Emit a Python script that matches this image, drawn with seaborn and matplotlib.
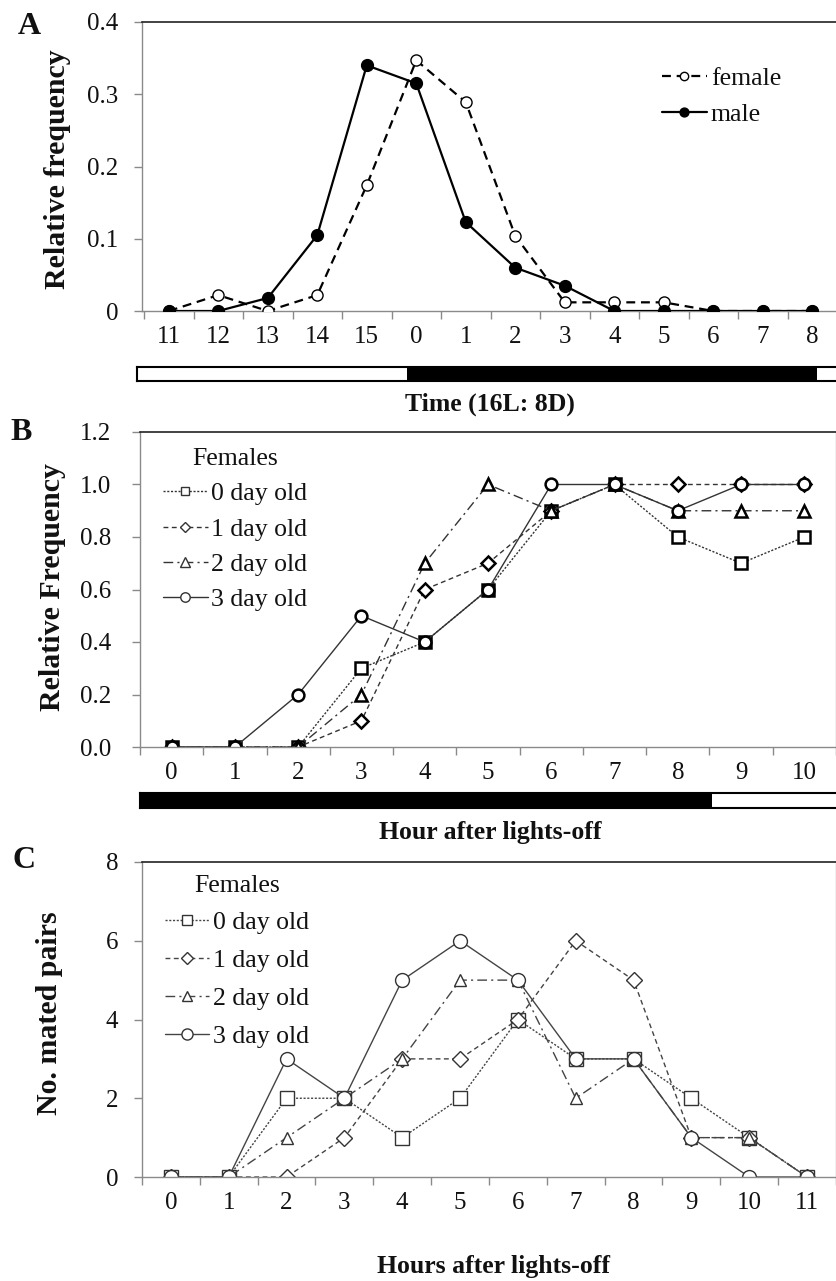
import numpy as np
import pandas as pd
import matplotlib
matplotlib.use('Agg')
import matplotlib.pyplot as plt
import seaborn as sns
from matplotlib.patches import Rectangle

sns.set_theme(style='white')
plt.rcParams['font.family'] = ['Liberation Serif', 'DejaVu Serif']
plt.rcParams['text.color'] = '#111111'

# ---------------- data ----------------
a_hours = ['11', '12', '13', '14', '15', '0', '1', '2', '3', '4', '5', '6', '7', '8']
a_female = [0, 0.022, 0, 0.022, 0.174, 0.347, 0.289, 0.104, 0.012, 0.012, 0.012, 0, 0, 0]
a_male = [0, 0, 0.018, 0.105, 0.340, 0.315, 0.123, 0.060, 0.035, 0, 0, 0, 0, 0]
a_labels = ['female', 'male']

b_hours = ['0', '1', '2', '3', '4', '5', '6', '7', '8', '9', '10']
b_day0 = [0, 0, 0, 0.3, 0.4, 0.6, 0.9, 1.0, 0.8, 0.7, 0.8]
b_day1 = [0, 0, 0, 0.1, 0.6, 0.7, 0.9, 1.0, 1.0, 1.0, 1.0]
b_day2 = [0, 0, 0, 0.2, 0.7, 1.0, 0.9, 1.0, 0.9, 0.9, 0.9]
b_day3 = [0, 0, 0.2, 0.5, 0.4, 0.6, 1.0, 1.0, 0.9, 1.0, 1.0]

c_hours = ['0', '1', '2', '3', '4', '5', '6', '7', '8', '9', '10', '11']
c_day0 = [0, 0, 2, 2, 1, 2, 4, 3, 3, 2, 1, 0]
c_day1 = [0, 0, 0, 1, 3, 3, 4, 6, 5, 1, 1, 0]
c_day2 = [0, 0, 1, 2, 3, 5, 5, 2, 3, 1, 1, 0]
c_day3 = [0, 0, 3, 2, 5, 6, 5, 3, 3, 1, 0, 0]

age_labels = ['0 day old', '1 day old', '2 day old', '3 day old']

# ---------------- layout helpers ----------------
W, H = 837, 1281
fig = plt.figure(figsize=(W / 100, H / 100), dpi=100)


def px_axes(l, t, r, b):
    return fig.add_axes([l / W, 1 - b / H, (r - l) / W, (b - t) / H])


def fx(x):
    return x / W


def fy(y):
    return 1 - y / H


GRAY = '#8a8a8a'


def style_axes(ax, ncat, xlim, yticks, ylabels, ypad, right=True):
    ax.set_xlim(*xlim)
    ax.set_ylim(yticks[0], yticks[-1])
    ax.set_yticks(yticks)
    ax.set_yticklabels(ylabels)
    ax.set_xticks(np.arange(ncat))
    ax.set_xticks(np.arange(-0.5, ncat + 0.5, 1), minor=True)
    ax.tick_params(axis='x', which='major', length=0, pad=11, labelsize=18, labelcolor='#111111')
    ax.tick_params(axis='x', which='minor', length=6, width=1, color=GRAY, direction='out', bottom=True)
    ax.tick_params(axis='y', which='major', length=6, width=1, color=GRAY, direction='out', left=True,
                   pad=ypad, labelsize=18, labelcolor='#111111')
    for s in ['left', 'bottom']:
        ax.spines[s].set_color(GRAY)
        ax.spines[s].set_linewidth(1)
    ax.spines['top'].set_color('#222222')
    ax.spines['top'].set_linewidth(1.2)
    if right:
        ax.spines['right'].set_color('#bbbbbb')
        ax.spines['right'].set_linewidth(1)
    else:
        ax.spines['right'].set_visible(False)
    ax.grid(False)
    ax.set_xlabel('')
    ax.set_ylabel('')


def light_bar(l, t, r, b, segments):
    bx = px_axes(l, t, r, b)
    bx.set_xlim(l, r)
    bx.set_ylim(0, 1)
    for color, x0, x1 in segments:
        bx.add_patch(Rectangle((x0, 0), x1 - x0, 1, facecolor=color, edgecolor='none'))
    bx.set_xticks([])
    bx.set_yticks([])
    for s in bx.spines.values():
        s.set_color('black')
        s.set_linewidth(1.5)
        s.set_visible(True)
    return bx


# ---------------- panel A ----------------
axA = px_axes(142, 22, 837, 311)
xa = np.arange(len(a_hours))
sns.lineplot(x=xa, y=a_female, ax=axA, color='black', lw=1.6, linestyle=(0, (4, 2.6)),
             marker='o', markersize=8, markerfacecolor='white', markeredgecolor='black',
             markeredgewidth=1, label=a_labels[0], zorder=3)
sns.lineplot(x=xa, y=a_male, ax=axA, color='black', lw=1.6, linestyle='-',
             marker='o', markersize=8.5, markerfacecolor='black', markeredgecolor='black',
             markeredgewidth=1, label=a_labels[1], zorder=4)
style_axes(axA, len(a_hours), (-0.541, 13.38), [0, 0.1, 0.2, 0.3, 0.4],
           ['0', '0.1', '0.2', '0.3', '0.4'], 11, right=False)
axA.set_xticklabels(a_hours)
legA = axA.legend(loc='upper left', bbox_to_anchor=(fx(662), fy(67)), bbox_transform=fig.transFigure,
                  frameon=False, fontsize=18.5, handlelength=1.75, handletextpad=0.15,
                  labelspacing=0.5, borderpad=0, borderaxespad=0, markerscale=0.75)
light_bar(137, 367, 840, 381, [('white', 137, 407), ('black', 407, 817), ('white', 817, 840)])

# ---------------- panel B ----------------
axB = px_axes(140, 432, 836, 747)
xb = np.arange(len(b_hours))
b_series = [b_day0, b_day1, b_day2, b_day3]
b_markers = ['s', 'D', '^', 'o']
b_msizes = [8, 7, 9, 8.5]
b_ls = [(0, (1.5, 1.2)), (0, (3.5, 2.5)), (0, (7, 3, 1.5, 3)), '-']
for ys, lab, mk, ms, ls in zip(b_series, age_labels, b_markers, b_msizes, b_ls):
    sns.lineplot(x=xb, y=ys, ax=axB, color='#333333', lw=1.0, linestyle=ls,
                 marker=mk, markersize=ms, markerfacecolor='white', markeredgecolor='black',
                 markeredgewidth=1.8, label=lab)
style_axes(axB, len(b_hours), (-0.485, 10.41), [0, 0.2, 0.4, 0.6, 0.8, 1.0, 1.2],
           ['0.0', '0.2', '0.4', '0.6', '0.8', '1.0', '1.2'], 15)
axB.set_xticklabels(b_hours)
legB = axB.legend(loc='upper left', bbox_to_anchor=(fx(163), fy(448)), bbox_transform=fig.transFigure,
                  frameon=False, fontsize=18.5, title='Females', title_fontsize=18.5,
                  handlelength=1.75, handletextpad=0.1, labelspacing=0.48, borderpad=0,
                  borderaxespad=0, markerscale=0.8)
legB._legend_box.sep = 9
for h in legB.legend_handles:
    h.set_markeredgewidth(1.0)
    h.set_markeredgecolor('#333333')
light_bar(140, 793, 840, 808, [('black', 140, 712), ('white', 712, 840)])

# ---------------- panel C ----------------
axC = px_axes(142, 862, 836, 1177)
xc = np.arange(len(c_hours))
c_series = [c_day0, c_day1, c_day2, c_day3]
c_msizes = [9.5, 8, 8.5, 10]
for ys, lab, mk, ms, ls in zip(c_series, age_labels, b_markers, c_msizes, b_ls):
    sns.lineplot(x=xc, y=ys, ax=axC, color='#444444', lw=1.0, linestyle=ls,
                 marker=mk, markersize=ms, markerfacecolor='white', markeredgecolor='#333333',
                 markeredgewidth=1.0, label=lab)
style_axes(axC, len(c_hours), (-0.497, 11.39), [0, 2, 4, 6, 8], ['0', '2', '4', '6', '8'], 11)
axC.set_xticklabels(c_hours)
legC = axC.legend(loc='upper left', bbox_to_anchor=(fx(165), fy(875)), bbox_transform=fig.transFigure,
                  frameon=False, fontsize=18.5, title='Females', title_fontsize=18.5,
                  handlelength=1.7, handletextpad=0.15, labelspacing=0.58, borderpad=0,
                  borderaxespad=0, markerscale=0.8)
legC._legend_box.sep = 10

# ---------------- texts ----------------
fig.text(fx(29), fy(26), 'A', fontsize=23, fontweight='bold', ha='center', va='center')
fig.text(fx(21), fy(433), 'B', fontsize=23, fontweight='bold', ha='center', va='center')
fig.text(fx(24), fy(861), 'C', fontsize=23, fontweight='bold', ha='center', va='center')

fig.text(fx(58), fy(169), 'Relative frequency', fontsize=21.5, fontweight='bold', rotation=90,
         ha='center', va='center')
fig.text(fx(53), fy(587), 'Relative Frequency', fontsize=21.5, fontweight='bold', rotation=90,
         ha='center', va='center')
fig.text(fx(50), fy(1013), 'No. mated pairs', fontsize=21.5, fontweight='bold', rotation=90,
         ha='center', va='center')

fig.text(fx(490), fy(404), 'Time (16L: 8D)', fontsize=18.5, fontweight='bold', ha='center', va='center')
fig.text(fx(490), fy(833), 'Hour after lights-off', fontsize=18.5, fontweight='bold', ha='center', va='center')
fig.text(fx(494), fy(1267), 'Hours after lights-off', fontsize=18.5, fontweight='bold', ha='center', va='center')

fig.savefig('out.png', dpi=100, facecolor='white')
